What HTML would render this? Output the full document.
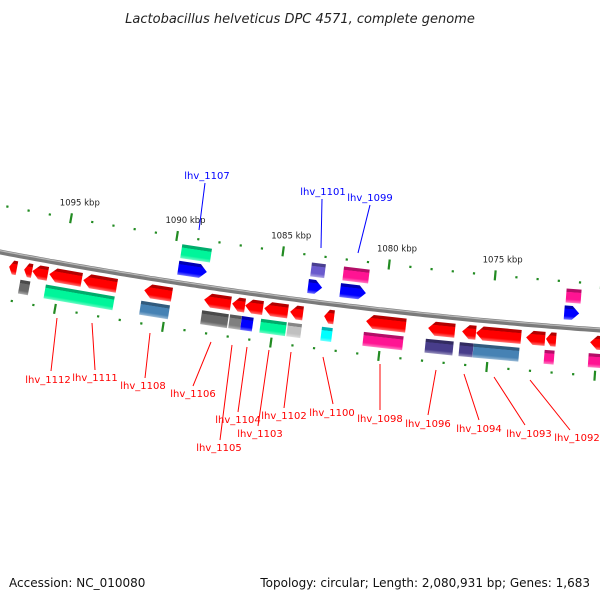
<!DOCTYPE html>
<html><head><meta charset="utf-8"><style>
body{margin:0;background:#fff}
svg{display:block}
text{font-family:"DejaVu Sans","Liberation Sans",sans-serif}
</style></head><body>
<svg id="c" width="600" height="600" viewBox="0 0 600 600">
<text x="300" y="23" text-anchor="middle" font-size="13" font-style="italic" fill="#222">Lactobacillus helveticus DPC 4571, complete genome</text>
<text x="9" y="587" font-size="12" fill="#111">Accession: NC_010080</text>
<text x="590" y="587" font-size="12" fill="#111" text-anchor="end">Topology: circular; Length: 2,080,931 bp; Genes: 1,683</text>
<defs id="defs"></defs>
<g id="ticks"></g><g id="backbone"></g><g id="genes"></g><g id="labels"></g>
</svg>
<script>
// ---- data ----
const tickKbp=[1098,1097,1096,1095,1094,1093,1092,1091,1090,1089,1088,1087,1086,1085,1084,1083,1082,1081,1080,1079,1078,1077,1076,1075,1074,1073,1072,1071,1070,1069];
const majorLabels=[1095,1090,1085,1080,1075];
const geneStart=[1097.52,1096.82,1096.44,1095.65,1094.06,1091.21,1088.41,1087.10,1086.49,1085.60,1084.39,1082.80,1080.84,1077.94,1076.35,1075.70,1073.36,1072.43,1070.37,
 1097.05,1095.88,1091.40,1088.55,1087.24,1086.68,1085.79,1084.53,1082.94,1080.98,1078.08,1076.49,1075.84,1072.52,1070.46,
 1089.48,1083.41,1081.91,1071.49,
 1089.62,1083.55,1082.05,1071.58];
const geneEnd=[1097.15,1096.44,1095.70,1094.11,1092.47,1089.90,1087.15,1086.49,1085.65,1084.48,1083.78,1082.33,1078.97,1076.68,1075.70,1073.59,1072.47,1071.96,1069.30,
 1096.58,1092.61,1090.04,1087.29,1086.68,1086.13,1084.58,1083.87,1082.43,1079.11,1076.77,1075.84,1073.69,1072.05,1069.30,
 1088.08,1082.75,1080.70,1070.79,
 1088.27,1082.89,1080.84,1070.88];
const geneRow=[2,2,2,2,2,2,2,2,2,2,2,2,2,2,2,2,2,2,2,
 3,3,3,3,3,3,3,3,3,3,3,3,3,3,3,
 0,0,0,0, 1,1,1,1];
const geneColor=["#ff0000","#ff0000","#ff0000","#ff0000","#ff0000","#ff0000","#ff0000","#ff0000","#ff0000","#ff0000","#ff0000","#ff0000","#ff0000","#ff0000","#ff0000","#ff0000","#ff0000","#ff0000","#ff0000",
 "#696969","#00f59a","#4682b4","#696969","#808080","#0000ff","#00f59a","#c0c0c0","#00ffff","#ff1493","#483d8b","#483d8b","#4682b4","#ff1493","#ff1493",
 "#00f59a","#6a5acd","#ff1493","#ff1493",
 "#0000ff","#0000ff","#0000ff","#0000ff"];
const geneArrow=[-1,-1,-1,-1,-1,-1,-1,-1,-1,-1,-1,-1,-1,-1,-1,-1,-1,-1,-1,
 0,0,0,0,0,0,0,0,0,0,0,0,0,0,0, 0,0,0,0, 1,1,1,1];
const labelNames=["lhv_1107","lhv_1101","lhv_1099","lhv_1112","lhv_1111","lhv_1108","lhv_1106","lhv_1105","lhv_1104","lhv_1103","lhv_1102","lhv_1100","lhv_1098","lhv_1096","lhv_1094","lhv_1093","lhv_1092"];
const labelX=[207,323,370,48,95,143,193,219,238,260,284,332,380,428,479,529,577];
const labelY=[179,195,201,383,381,389,397,451,423,437,419,416,422,427,432,437,441];
const lineFrom=[[205,183],[322,199],[370,205],[57,318],[92,323],[150,333],[211,342],[232,345],[247,347],[269,350],[291,352],[323,357],[380,364],[436,370],[464,374],[494,377],[530,380]];
const lineTo=[[199,230],[321,248],[358,253],[51,371],[95,370],[145,378],[193,386],[220,440],[238,412],[258,426],[284,408],[333,404],[380,410],[428,415],[479,420],[525,425],[570,430]];
// ---- scales ----
const X=k=>170+(1090-k)*21.4;
const Y=x=>252+0.19*x-0.0001*x*x;
const M=x=>0.19-0.0002*x;
const rowOff=[-32,-15,13,31];
const NS="http://www.w3.org/2000/svg";
function mk(t,a,p){const e=document.createElementNS(NS,t);for(const k in a)e.setAttribute(k,a[k]);p.appendChild(e);return e;}
function norm(x,d){const m=M(x),n=Math.hypot(1,m);return [x+d*m/n,Y(x)-d/n];}
// backbone
let d="";for(let x=-5;x<=605;x+=5)d+=(x<0?"M":"L")+x+","+Y(x).toFixed(1);
const bb=mk("path",{d:d,stroke:"#7a7a7a","stroke-width":5,fill:"none"},document.getElementById("backbone"));


mk("path",{d:d,stroke:"#b8b8b8","stroke-width":1.2,fill:"none",transform:"translate(0,-1.3)"},document.getElementById("backbone"));
// ticks
const tg=document.getElementById("ticks");
tickKbp.forEach(k=>{const x=X(k);const maj=k%5===0;
 [46,-46].forEach(o=>{const p=norm(x,o);const m=M(x);const a=Math.atan(m)*180/Math.PI;
  const r=mk("rect",{x:p[0]-1.1,y:p[1]-(maj?5:1.1),width:2.2,height:maj?10:2.2,fill:"#228b22",transform:"rotate("+a+","+p[0]+","+p[1]+")"},tg);
  
  });
 if(majorLabels.includes(k)){const p=norm(x,62);const t=mk("text",{x:p[0]+6,y:p[1]+3,"font-size":8.5,"text-anchor":"middle",fill:"#222"},tg);t.textContent=k+" kbp";
  
  }
});
// gradients
const defs=document.getElementById("defs");const gm={};
function shade(c,f){const n=parseInt(c.slice(1),16);let r=n>>16,g=(n>>8)&255,b=n&255;
 if(f<0){r*=1+f;g*=1+f;b*=1+f}else{r+=(255-r)*f;g+=(255-g)*f;b+=(255-b)*f}
 return "rgb("+[r,g,b].map(v=>Math.round(v)).join(",")+")";}
function grad(c){if(gm[c])return gm[c];const id="g"+Object.keys(gm).length;
 const lg=mk("linearGradient",{id:id,x1:0,y1:0,x2:0,y2:1},defs);
 [[0,shade(c,-0.3)],[0.22,shade(c,-0.3)],[0.24,c],[0.75,c],[1,shade(c,0.45)]].forEach(s=>mk("stop",{offset:s[0],"stop-color":s[1]},lg));
 gm[c]="url(#"+id+")";return gm[c];}
// genes
const gg=document.getElementById("genes");
geneStart.forEach((s,i)=>{const x1=X(s),x2=X(geneEnd[i]);const xm=(x1+x2)/2;const cy=Y(xm)+rowOff[geneRow[i]];
 const w=x2-x1,h=14,a=Math.atan(M(xm))*180/Math.PI;const L=xm-w/2,R=xm+w/2,T=cy-h/2,B=cy+h/2;const hd=Math.min(7,w*0.5);
 let pts;
 if(geneArrow[i]===-1)pts=[[L,cy],[L+hd,T],[R,T],[R,B],[L+hd,B]];
 else if(geneArrow[i]===1)pts=[[L,T],[R-hd,T],[R,cy],[R-hd,B],[L,B]];
 else pts=[[L,T],[R,T],[R,B],[L,B]];
 const pg=mk("polygon",{points:pts.map(p=>p.map(v=>v.toFixed(1)).join(",")).join(" "),fill:grad(geneColor[i]),transform:"rotate("+a.toFixed(2)+","+xm.toFixed(1)+","+cy.toFixed(1)+")"},gg);
 
 
});
// labels
const lg2=document.getElementById("labels");
labelNames.forEach((n,i)=>{const col=i<3?"#0000ff":"#ff0000";
 const l=mk("line",{x1:lineFrom[i][0],y1:lineFrom[i][1],x2:lineTo[i][0],y2:lineTo[i][1],stroke:col,"stroke-width":1},lg2);
 
 
 const t=mk("text",{x:labelX[i],y:labelY[i],"font-size":10,"text-anchor":"middle",fill:col},lg2);t.textContent=n;
 
 
});
</script>
</body></html>
